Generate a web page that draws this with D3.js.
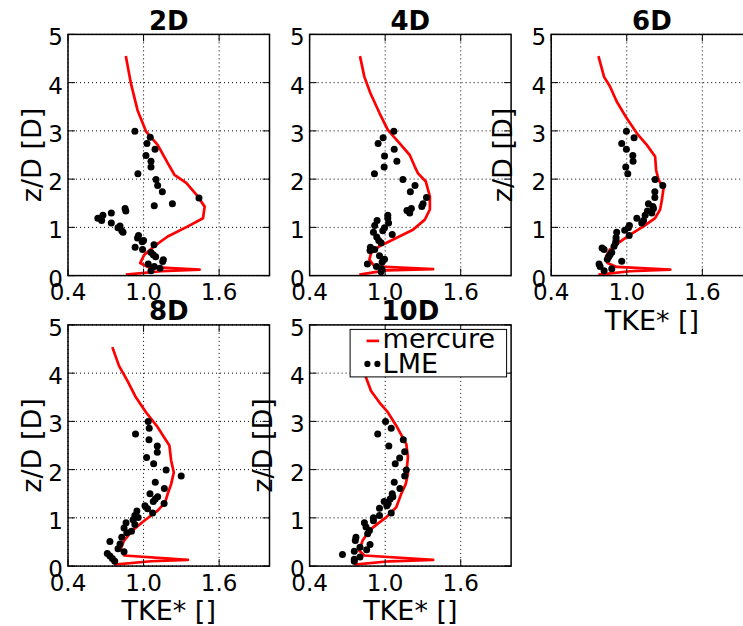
<!DOCTYPE html>
<html>
<head>
<meta charset="utf-8">
<script src="https://cdn.jsdelivr.net/npm/d3@7"></script>
<style>
  html, body { margin: 0; padding: 0; background: #fff; }
  svg { display: block; }
  text { font-family: "DejaVu Sans", sans-serif; fill: #000; }
</style>
</head>
<body>
<svg id="chart" width="743" height="626"></svg>
<script>
// ---------------- data ----------------
const panelTitles = ["2D", "4D", "6D", "8D", "10D"];
const xTicks = [0.4, 1.0, 1.6];
const xTickLabels = ["0.4", "1.0", "1.6"];
const yTicks = [0, 1, 2, 3, 4, 5];
const yTickLabels = ["0", "1", "2", "3", "4", "5"];
const xDomain = [0.4, 2.0];
const yDomain = [0, 5];
const seriesNames = ["mercure", "LME"];
const xLabel = "TKE* []";
const yLabel = "z/D [D]";

// mercure profiles: [TKE*, z/D]
const mercure2D = [[0.859,4.55],[0.899,3.99],[0.952,3.43],[1.019,2.99],[1.112,2.71],[1.192,2.33],[1.245,2.09],[1.339,1.92],[1.419,1.68],[1.485,1.43],[1.472,1.19],[1.352,1.02],[1.192,0.81],[1.085,0.61],[1.005,0.43],[0.973,0.26],[1.032,0.18],[1.445,0.125],[1.139,0.09],[0.859,0.02]];
const mercure4D = [[0.80,4.55],[0.835,4.12],[0.883,3.78],[0.955,3.37],[1.021,3.02],[1.115,2.74],[1.195,2.50],[1.235,2.26],[1.261,2.12],[1.323,1.95],[1.355,1.64],[1.355,1.37],[1.315,1.16],[1.221,0.95],[1.088,0.78],[0.955,0.61],[0.888,0.47],[0.875,0.33],[0.915,0.19],[1.381,0.135],[1.008,0.11],[0.795,0.02]];
const mercure6D = [[0.775,4.55],[0.82,4.12],[0.867,3.92],[0.92,3.61],[1.0,3.26],[1.08,2.95],[1.159,2.71],[1.225,2.47],[1.233,2.19],[1.252,1.99],[1.292,1.81],[1.279,1.57],[1.265,1.37],[1.225,1.19],[1.133,1.02],[1.027,0.85],[0.934,0.68],[0.867,0.54],[0.836,0.40],[0.846,0.26],[0.92,0.18],[1.345,0.125],[1.027,0.09],[0.775,0.02]];
const mercure8D = [[0.752,4.54],[0.805,4.15],[0.872,3.84],[0.939,3.50],[1.019,3.19],[1.112,2.88],[1.205,2.50],[1.219,2.19],[1.24,1.94],[1.219,1.70],[1.192,1.50],[1.171,1.32],[1.112,1.15],[1.005,0.94],[0.912,0.74],[0.845,0.53],[0.819,0.36],[0.845,0.22],[1.352,0.13],[1.059,0.10],[0.765,0.03]];
const mercure10D = [[0.781,4.54],[0.808,4.24],[0.848,3.91],[0.888,3.63],[0.955,3.39],[1.021,3.19],[1.088,2.91],[1.168,2.53],[1.181,2.26],[1.173,2.05],[1.181,1.91],[1.163,1.70],[1.128,1.50],[1.088,1.22],[1.008,1.01],[0.941,0.88],[0.875,0.74],[0.821,0.53],[0.795,0.32],[0.835,0.22],[1.381,0.13],[1.035,0.10],[0.755,0.03]];

// LME measurements: [TKE*, z/D]
const lme2D = [[0.931,2.99],[1.053,2.87],[1.027,2.74],[1.091,2.62],[1.019,2.49],[1.059,2.37],[1.059,2.25],[0.955,2.11],[1.099,1.99],[1.112,1.87],[1.149,1.74],[1.44,1.61],[1.229,1.49],[1.085,1.45],[0.853,1.39],[0.859,1.34],[0.744,1.30],[0.677,1.25],[0.637,1.19],[0.667,1.14],[0.744,1.09],[0.813,1.03],[0.797,0.99],[0.827,0.93],[0.837,0.90],[0.96,0.83],[0.952,0.78],[1.0,0.73],[0.989,0.70],[1.083,0.64],[0.933,0.59],[0.992,0.54],[1.059,0.48],[1.077,0.43],[1.096,0.39],[1.157,0.33],[1.152,0.29],[1.037,0.24],[1.085,0.19],[1.131,0.15],[1.059,0.10]];
const lme4D = [[1.069,2.99],[0.984,2.86],[0.944,2.74],[1.072,2.62],[0.995,2.48],[1.093,2.37],[0.992,2.25],[0.915,2.11],[1.141,1.99],[1.237,1.87],[1.2,1.74],[1.328,1.62],[1.301,1.49],[1.291,1.43],[1.208,1.39],[1.173,1.35],[1.195,1.30],[1.021,1.25],[1.021,1.19],[0.936,1.14],[1.027,1.09],[0.917,1.04],[0.995,0.99],[0.981,0.93],[0.907,0.90],[1.056,0.85],[0.933,0.80],[0.949,0.73],[0.968,0.68],[0.883,0.59],[0.917,0.54],[0.88,0.52],[0.955,0.41],[0.995,0.34],[0.976,0.28],[0.859,0.24],[0.931,0.19],[0.973,0.14],[0.968,0.08]];
const lme6D = [[0.997,2.99],[1.058,2.86],[0.96,2.74],[0.997,2.62],[1.048,2.49],[1.05,2.37],[0.992,2.25],[1.008,2.11],[1.225,1.99],[1.286,1.87],[1.223,1.74],[1.223,1.62],[1.172,1.49],[1.207,1.43],[1.212,1.39],[1.164,1.34],[1.199,1.30],[1.146,1.25],[1.08,1.19],[1.133,1.14],[1.119,1.09],[1.021,1.04],[1.013,0.99],[0.984,0.94],[0.92,0.90],[1.019,0.83],[0.915,0.79],[0.915,0.73],[0.912,0.68],[0.899,0.61],[0.804,0.57],[0.82,0.54],[0.881,0.48],[0.867,0.43],[0.857,0.39],[0.846,0.34],[0.96,0.30],[0.78,0.24],[0.788,0.19],[0.881,0.14],[0.82,0.10]];
const lme8D = [[1.037,3.0],[1.045,2.86],[0.936,2.74],[1.043,2.62],[1.109,2.49],[1.109,2.36],[1.024,2.25],[1.08,2.12],[1.179,1.99],[1.299,1.87],[1.093,1.74],[1.165,1.61],[1.051,1.50],[1.112,1.44],[1.093,1.39],[1.077,1.34],[1.163,1.30],[1.011,1.25],[1.032,1.19],[0.947,1.14],[1.072,1.10],[0.931,1.05],[0.957,1.01],[0.917,0.96],[0.861,0.90],[0.931,0.86],[0.845,0.79],[0.904,0.72],[0.867,0.69],[0.827,0.60],[0.733,0.51],[0.813,0.46],[0.797,0.36],[0.845,0.30],[0.712,0.26],[0.733,0.21],[0.752,0.16],[0.771,0.10]];
const lme10D = [[1.003,3.0],[1.048,2.86],[0.941,2.74],[1.144,2.62],[1.029,2.49],[1.155,2.37],[1.115,2.24],[1.08,2.12],[1.168,1.99],[1.155,1.87],[1.072,1.74],[1.117,1.61],[1.056,1.50],[1.061,1.44],[1.04,1.39],[0.992,1.34],[1.024,1.30],[1.013,1.25],[0.955,1.20],[1.048,1.10],[0.955,1.05],[0.907,1.0],[0.907,0.94],[0.835,0.90],[0.848,0.81],[0.875,0.74],[0.861,0.67],[0.768,0.60],[0.763,0.53],[0.88,0.45],[0.8,0.39],[0.853,0.34],[0.755,0.31],[0.661,0.24],[0.8,0.19],[0.755,0.14],[0.755,0.10]];

const mercureSeries = [mercure2D, mercure4D, mercure6D, mercure8D, mercure10D];
const lmeSeries = [lme2D, lme4D, lme6D, lme8D, lme10D];

// ---------------- layout ----------------
const svg = d3.select("#chart");
const panelW = 201.5, panelH = 241.2;
const colX = [68, 309.6, 551.2];
const rowY = [34.4, 324.9];
const hasXLabel = [false, false, true, true, true];
const yLabelOffset = [27.5, null, 39, 27.5, 37.5];
const legendPanel = 4;

panelTitles.forEach((title, i) => {
  const col = i % 3, row = Math.floor(i / 3);
  const L = colX[col], T = rowY[row];
  const x = d3.scaleLinear().domain(xDomain).range([L, L + panelW]);
  const y = d3.scaleLinear().domain(yDomain).range([T + panelH, T]);
  const g = svg.append("g");

  // grid
  g.selectAll(".gx").data(xTicks).join("line")
    .attr("x1", d => x(d)).attr("x2", d => x(d))
    .attr("y1", T).attr("y2", T + panelH)
    .attr("stroke", "#000").attr("stroke-width", 1)
    .attr("stroke-dasharray", "1,3");
  g.selectAll(".gy").data(yTicks).join("line")
    .attr("x1", L).attr("x2", L + panelW)
    .attr("y1", d => y(d)).attr("y2", d => y(d))
    .attr("stroke", "#000").attr("stroke-width", 1)
    .attr("stroke-dasharray", "1,3");

  // mercure line
  const line = d3.line().x(d => x(d[0])).y(d => y(d[1]));
  g.append("path").datum(mercureSeries[i])
    .attr("d", line).attr("fill", "none")
    .attr("stroke", "#ff0000").attr("stroke-width", 2.7)
    .attr("stroke-linejoin", "round");

  // LME dots
  g.selectAll(".dot").data(lmeSeries[i]).join("circle")
    .attr("cx", d => x(d[0])).attr("cy", d => y(d[1]))
    .attr("r", 3.5).attr("fill", "#000");

  // frame
  g.append("rect").attr("x", L).attr("y", T)
    .attr("width", panelW).attr("height", panelH)
    .attr("fill", "none").attr("stroke", "#000").attr("stroke-width", 1.5);

  // ticks (inside, on all four sides)
  const tl = 7;
  xTicks.forEach(t => {
    g.append("line").attr("x1", x(t)).attr("x2", x(t))
      .attr("y1", T + panelH).attr("y2", T + panelH - tl)
      .attr("stroke", "#000").attr("stroke-width", 1);
    g.append("line").attr("x1", x(t)).attr("x2", x(t))
      .attr("y1", T).attr("y2", T + tl)
      .attr("stroke", "#000").attr("stroke-width", 1);
  });
  yTicks.forEach(t => {
    g.append("line").attr("x1", L).attr("x2", L + tl)
      .attr("y1", y(t)).attr("y2", y(t))
      .attr("stroke", "#000").attr("stroke-width", 1);
    g.append("line").attr("x1", L + panelW).attr("x2", L + panelW - tl)
      .attr("y1", y(t)).attr("y2", y(t))
      .attr("stroke", "#000").attr("stroke-width", 1);
  });

  // tick labels
  g.selectAll(".xtl").data(xTicks).join("text")
    .attr("x", d => x(d)).attr("y", T + panelH + 24.5)
    .attr("text-anchor", "middle").attr("font-size", 23)
    .text((d, k) => xTickLabels[k]);
  g.selectAll(".ytl").data(yTicks).join("text")
    .attr("x", L - 5).attr("y", d => y(d) + 11)
    .attr("text-anchor", "end").attr("font-size", 23)
    .text((d, k) => yTickLabels[k]);

  // title
  g.append("text").attr("x", L + panelW / 2).attr("y", T - 4.5)
    .attr("text-anchor", "middle").attr("font-size", 26)
    .attr("font-weight", "bold").text(title);

  // axis labels
  if (hasXLabel[i]) {
    g.append("text").attr("x", L + panelW / 2).attr("y", T + panelH + 54)
      .attr("text-anchor", "middle").attr("font-size", 27).text(xLabel);
  }
  if (yLabelOffset[i] !== null) {
    const lx = L - yLabelOffset[i], ly = T + panelH / 2;
    g.append("text").attr("transform", `translate(${lx},${ly}) rotate(-90)`)
      .attr("text-anchor", "middle").attr("font-size", 27).text(yLabel);
  }

  // legend
  if (i === legendPanel) {
    const lg = svg.append("g").attr("transform", `translate(${L + 40.5},${T + 4.5})`);
    lg.append("rect").attr("x", 0).attr("y", 0).attr("width", 156.5).attr("height", 47.5)
      .attr("fill", "#fff").attr("stroke", "#000").attr("stroke-width", 1);
    lg.append("line").attr("x1", 16.5).attr("x2", 29).attr("y1", 11.5).attr("y2", 11.5)
      .attr("stroke", "#ff0000").attr("stroke-width", 2.7);
    lg.append("text").attr("x", 32.5).attr("y", 19).attr("font-size", 27).text(seriesNames[0]);
    [17.3, 27.3].forEach(cx => {
      lg.append("circle").attr("cx", cx).attr("cy", 34.5).attr("r", 3.1).attr("fill", "#000");
    });
    lg.append("text").attr("x", 32.5).attr("y", 44).attr("font-size", 27).text(seriesNames[1]);
  }
});
</script>
</body>
</html>
